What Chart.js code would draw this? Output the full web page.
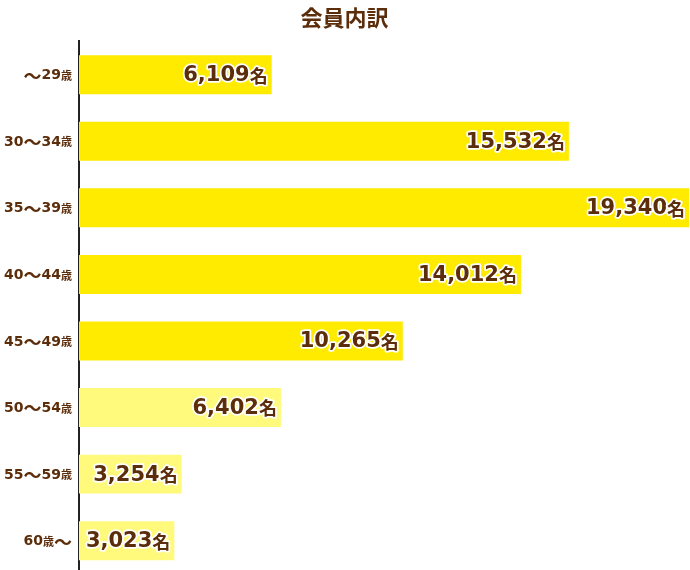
<!DOCTYPE html>
<html lang="ja">
<head>
<meta charset="utf-8">
<script src="https://cdn.jsdelivr.net/npm/chart.js@4"></script>
<style>
  html, body { margin: 0; padding: 0; background: #fff; overflow: hidden; }
  #wrap { width: 690px; height: 574px; position: relative; }
</style>
</head>
<body>
<div id="wrap"><canvas id="chart"></canvas></div>
<script>
// age groups (the number part and the unit are drawn at different sizes)
const ageGroups = ['～29歳', '30～34歳', '35～39歳', '40～44歳', '45～49歳', '50～54歳', '55～59歳', '60歳～'];
const members = [6109, 15532, 19340, 14012, 10265, 6402, 3254, 3023];
const barColors = ['#ffeb00', '#ffeb00', '#ffeb00', '#ffeb00', '#ffeb00', '#fff97c', '#fff97c', '#fff97c'];

const BROWN = '#5c2d0a';
const JP = '"Noto Sans CJK JP", sans-serif';
const NUM = '"DejaVu Sans", sans-serif';

// sizes: [digits, 歳/名, ～]
function fontFor(ch, sizes) {
  if (ch === '歳' || ch === '名') return 'bold ' + sizes[1] + 'px ' + JP;
  if (ch === '～') return 'bold ' + sizes[2] + 'px ' + JP;
  return 'bold ' + sizes[0] + 'px ' + NUM;
}

function drawMixed(ctx, text, xRight, y, sizes, outline) {
  const chars = [...text];
  const widths = chars.map(ch => {
    ctx.font = fontFor(ch, sizes);
    return ctx.measureText(ch).width;
  });
  let x = xRight - widths.reduce((a, b) => a + b, 0);
  chars.forEach((ch, i) => {
    ctx.font = fontFor(ch, sizes);
    if (outline) {
      ctx.lineWidth = 3.5;
      ctx.lineJoin = 'round';
      ctx.strokeStyle = '#fff';
      ctx.strokeText(ch, x, y);
    }
    ctx.fillStyle = BROWN;
    ctx.fillText(ch, x, y);
    x += widths[i];
  });
}

const labelPlugin = {
  id: 'labels',
  afterDatasetsDraw(chart) {
    const ctx = chart.ctx;
    const yScale = chart.scales.y;
    const meta = chart.getDatasetMeta(0);
    ctx.save();
    ctx.textAlign = 'left';
    ctx.textBaseline = 'middle';
    // category labels on the left
    ageGroups.forEach((g, i) => {
      drawMixed(ctx, g, 72, yScale.getPixelForTick(i) + 1, [14, 11, 18], false);
    });
    // value labels inside the bars
    meta.data.forEach((bar, i) => {
      const txt = members[i].toLocaleString('en-US') + '名';
      drawMixed(ctx, txt, bar.x - 4, bar.y + 1, [21, 18, 18], true);
    });
    ctx.restore();
  }
};

new Chart(document.getElementById('chart'), {
  type: 'bar',
  data: {
    labels: ageGroups,
    datasets: [{
      data: members,
      backgroundColor: barColors,
      borderWidth: 0,
      barPercentage: 0.585,
      categoryPercentage: 1.0
    }]
  },
  options: {
    indexAxis: 'y',
    responsive: true,
    maintainAspectRatio: false,
    animation: false,
    layout: { padding: { left: 0, right: 1, top: 0, bottom: 0 } },
    plugins: {
      legend: { display: false },
      tooltip: { enabled: false },
      title: {
        display: true,
        text: '会員内訳',
        color: BROWN,
        font: { family: JP, size: 22, weight: 'bold' },
        padding: { top: 4, bottom: 11 }
      }
    },
    scales: {
      x: {
        display: false,
        min: 0,
        max: 19340
      },
      y: {
        grid: { display: false },
        ticks: { display: false },
        border: { display: true, color: '#222', width: 2 },
        afterFit(scale) { scale.width = 79; }
      }
    }
  },
  plugins: [labelPlugin]
});
</script>
</body>
</html>
